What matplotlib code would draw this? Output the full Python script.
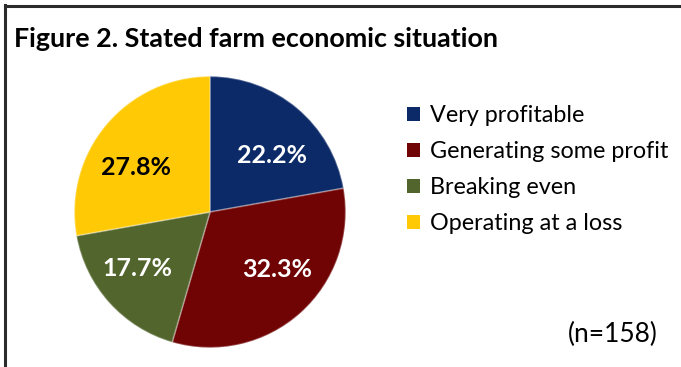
import matplotlib
matplotlib.use("Agg")
import matplotlib.pyplot as plt
from matplotlib.lines import Line2D
from matplotlib.patches import Patch

categories = ["Very profitable", "Generating some profit", "Breaking even", "Operating at a loss"]
values = [22.2, 32.3, 17.7, 27.8]
colors = ["#0C2A68", "#700404", "#52652D", "#FFCA05"]
label_colors = ["white", "white", "white", "black"]
title = "Figure 2. Stated farm economic situation"
note = "(n=158)"

W, H = 681, 367
fig = plt.figure(figsize=(W / 100, H / 100), dpi=100)
fig.patch.set_facecolor("white")
font = "Lato"

# frame lines (left and top)
fig.add_artist(Line2D([5 / W, 5 / W], [0, 1 - 5 / H], color="#2b2b2b", lw=2.2, transform=fig.transFigure))
fig.add_artist(Line2D([5 / W, 1], [1 - 6 / H, 1 - 6 / H], color="#2b2b2b", lw=2.2, transform=fig.transFigure))

fig.text(14 / W, 1 - 39 / H, title, fontsize=19.4, fontweight="bold", family=font,
         ha="left", va="center", color="black")

cx, cy, r = 210, 212, 137
ax = fig.add_axes([(cx - r) / W, (H - cy - r) / H, 2 * r / W, 2 * r / H])
wedges, texts, autotexts = ax.pie(
    values, colors=colors, startangle=90, counterclock=False,
    autopct="%.1f%%", pctdistance=0.64, radius=1,
    wedgeprops=dict(edgecolor=(1, 1, 1, 0.3), linewidth=1.2),
    textprops=dict(fontsize=18, fontweight="bold", family=font))
# label placement (pixel offsets as in the reference layout)
label_px = [(273, 155), (278, 270), (137, 269), (135, 167)]
for t, c, (px, py) in zip(autotexts, label_colors, label_px):
    t.set_color(c)
    t.set_position(((px - cx) / r, (cy - py) / r))
ax.set_xlim(-1.01, 1.01)
ax.set_ylim(-1.01, 1.01)
ax.set_aspect("equal")
ax.axis("off")

handles = [Patch(facecolor=c, edgecolor="none") for c in colors]
leg = fig.legend(handles, categories, loc="upper left",
                 bbox_to_anchor=(398 / W, 1 - 96 / H), frameon=False, borderaxespad=0,
                 prop=dict(family=font, size=16.8), handlelength=0.55, handleheight=0.55,
                 handletextpad=0.42, labelspacing=0.64)

fig.text(613 / W, 1 - 334 / H, note, fontsize=19, family=font, ha="center", va="center")

fig.savefig("out.png", dpi=100)
